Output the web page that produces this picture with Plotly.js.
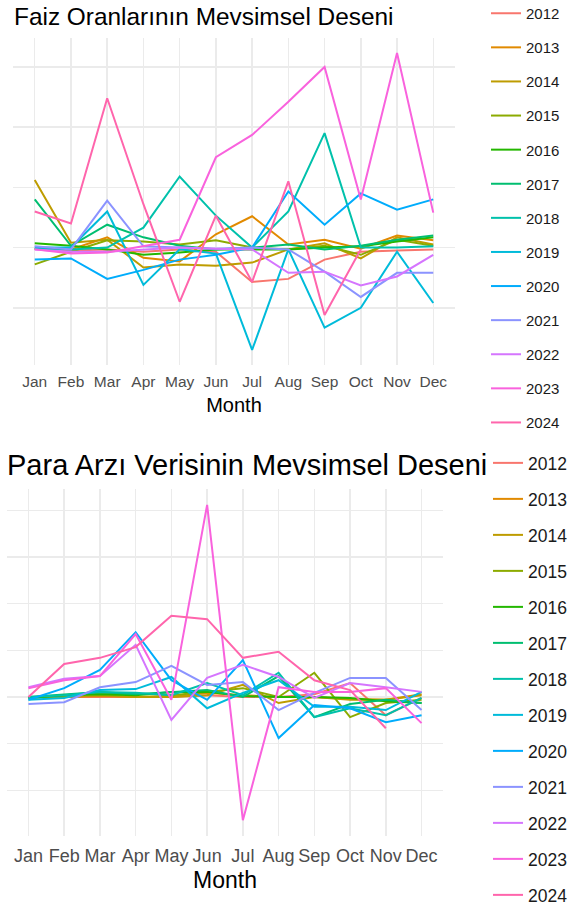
<!DOCTYPE html>
<html>
<head>
<meta charset="utf-8">
<script src="https://cdn.plot.ly/plotly-3.0.1.min.js"></script>
<style>html,body{margin:0;padding:0;background:#fff;}#chart{width:572px;height:908px;}</style>
</head>
<body>
<div id="chart"></div>
<script>
const months = ["Jan","Feb","Mar","Apr","May","Jun","Jul","Aug","Sep","Oct","Nov","Dec"];
const years = ["2012","2013","2014","2015","2016","2017","2018","2019","2020","2021","2022","2023","2024"];
const colors = ["#F8766D","#E18A00","#BE9C00","#8CAB00","#24B700","#00BE70","#00C1AB","#00BBDA","#00ACFC","#8B93FF","#D575FE","#F962DD","#FF65AC"];

// Faiz Oranları (interest rates) seasonal pattern
const faiz2012 = [-0.02,-0.05,-0.03,-0.07,-0.03,-0.07,-0.57,-0.52,-0.20,-0.07,-0.05,-0.03];
const faiz2013 = [-0.02,-0.03,0.17,-0.17,-0.23,0.22,0.52,0.05,0.13,-0.02,0.20,0.12];
const faiz2014 = [1.12,0.08,0.13,-0.33,-0.28,-0.30,-0.25,-0.03,0.07,-0.18,0.17,0.05];
const faiz2015 = [-0.28,-0.07,0.12,0.10,0.05,0.12,0.00,-0.03,0.03,-0.12,0.13,0.03];
const faiz2016 = [0.07,0.03,-0.03,-0.12,-0.08,-0.03,-0.03,-0.03,0.00,0.02,0.10,0.17];
const faiz2017 = [0.80,0.03,0.38,0.17,0.03,-0.03,0.00,0.05,-0.03,0.03,0.13,0.20];
const faiz2018 = [-0.02,-0.03,0.00,0.33,1.18,0.53,0.00,0.60,1.90,0.00,0.00,0.02];
const faiz2019 = [0.00,0.00,0.60,-0.62,-0.03,-0.10,-1.70,-0.03,-1.33,-1.00,-0.07,-0.92];
const faiz2020 = [-0.20,-0.18,-0.52,-0.37,-0.20,-0.12,0.00,0.93,0.38,0.90,0.63,0.80];
const faiz2021 = [0.02,-0.03,0.78,0.02,0.00,-0.02,0.00,-0.03,-0.40,-0.82,-0.42,-0.42];
const faiz2022 = [-0.03,-0.07,-0.07,-0.03,0.00,-0.02,-0.03,-0.42,-0.40,-0.63,-0.48,-0.12];
const faiz2023 = [-0.03,-0.10,-0.08,0.02,0.13,1.50,1.87,2.42,3.00,0.80,3.23,0.58];
const faiz2024 = [0.60,0.40,2.48,0.72,-0.90,0.53,-0.57,1.10,-1.12,-0.03];

// Para Arzı (money supply) seasonal pattern
const para2012 = [0.00,0.00,0.00,0.00,0.00,0.04,0.00,0.00,0.06,0.30,-0.39,-0.02];
const para2013 = [0.00,0.00,0.02,0.00,0.00,0.09,0.04,0.00,0.00,-0.04,-0.06,0.06];
const para2014 = [0.00,0.00,0.04,0.00,0.00,0.04,0.26,-0.13,0.00,-0.06,-0.06,0.04];
const para2015 = [-0.02,0.02,0.09,0.06,0.04,0.11,0.19,0.00,0.52,-0.43,-0.13,-0.06];
const para2016 = [-0.02,0.04,0.06,0.04,0.11,0.11,0.02,0.00,0.00,-0.02,-0.09,-0.13];
const para2017 = [0.00,0.06,0.11,0.06,0.11,0.15,0.00,0.45,-0.43,-0.15,-0.06,-0.13];
const para2018 = [0.00,0.04,0.11,0.09,0.04,0.30,0.04,0.52,-0.43,-0.24,-0.39,-0.02];
const para2019 = [-0.06,-0.02,0.15,0.17,0.43,-0.24,0.09,0.36,-0.21,-0.21,-0.28,0.11];
const para2020 = [-0.06,0.19,0.58,1.39,0.36,-0.06,0.79,-0.88,-0.17,-0.24,-0.54,-0.39];
const para2021 = [-0.15,-0.11,0.21,0.32,0.67,0.26,0.32,-0.28,0.09,0.41,0.41,-0.28];
const para2022 = [0.21,0.39,0.45,1.12,-0.49,0.41,0.69,0.43,-0.02,0.30,0.21,0.11];
const para2023 = [0.19,0.36,0.45,1.35,-0.06,4.12,-2.64,0.21,0.11,0.11,0.19,-0.56];
const para2024 = [0.00,0.71,0.84,1.07,1.74,1.67,0.84,0.97,0.36,0.15,-0.67];

const faizSeries = [faiz2012,faiz2013,faiz2014,faiz2015,faiz2016,faiz2017,faiz2018,faiz2019,faiz2020,faiz2021,faiz2022,faiz2023,faiz2024];
const paraSeries = [para2012,para2013,para2014,para2015,para2016,para2017,para2018,para2019,para2020,para2021,para2022,para2023,para2024];

const FONT = "Liberation Sans, Arial, sans-serif";
const traces = [];
years.forEach((yr, i) => {
  traces.push({
    x: months.slice(0, faizSeries[i].length), y: faizSeries[i],
    type: "scatter", mode: "lines", name: yr,
    line: {color: colors[i], width: 2},
    xaxis: "x", yaxis: "y", legend: "legend", legendgroup: "f" + yr
  });
});
years.forEach((yr, i) => {
  traces.push({
    x: months.slice(0, paraSeries[i].length), y: paraSeries[i],
    type: "scatter", mode: "lines", name: yr,
    line: {color: colors[i], width: 2},
    xaxis: "x2", yaxis: "y2", legend: "legend2", legendgroup: "p" + yr
  });
});

const W = 572, H = 908;
const gridC = "#EBEBEB";
const xBase = {
  type: "category", categoryorder: "array", categoryarray: months,
  showgrid: true, gridcolor: gridC, gridwidth: 1.5, zeroline: false,
  showline: false, ticks: "", automargin: false
};
const yBase = {
  showgrid: true, gridcolor: gridC, gridwidth: 1.5, zeroline: false,
  showticklabels: false, showline: false, ticks: "", dtick: 1, tick0: 0, automargin: false
};

const layout = {
  width: W, height: H,
  margin: {l: 0, r: 0, t: 0, b: 0, autoexpand: false},
  paper_bgcolor: "#fff", plot_bgcolor: "#fff",
  font: {family: FONT, color: "#4D4D4D"},
  showlegend: true,
  xaxis: Object.assign({}, xBase, {
    domain: [13/W, 455/W], anchor: "y", range: [-0.6, 11.6],
    ticklabelstandoff: 5,
    tickfont: {size: 15.5, color: "#4D4D4D", family: FONT},
    title: {text: "Month", font: {size: 20, color: "#000", family: FONT}, standoff: 9}
  }),
  yaxis: Object.assign({}, yBase, {
    domain: [1 - 365/H, 1 - 38/H], anchor: "x", range: [-1.95, 3.48]
  }),
  xaxis2: Object.assign({}, xBase, {
    domain: [7/W, 443/W], anchor: "y2", range: [-0.6, 11.6],
    ticklabelstandoff: 7,
    tickfont: {size: 18, color: "#4D4D4D", family: FONT},
    title: {text: "Month", font: {size: 23, color: "#000", family: FONT}, standoff: 6}
  }),
  yaxis2: Object.assign({}, yBase, {
    domain: [1 - 836/H, 1 - 489/H], anchor: "x2", range: [-2.98, 4.46]
  }),
  legend: {
    x: 486/W, y: 1 + 3/H, xanchor: "left", yanchor: "top",
    font: {size: 15, color: "#1a1a1a", family: FONT},
    traceorder: "grouped", tracegroupgap: 11.6, bgcolor: "rgba(0,0,0,0)",
    itemwidth: 30
  },
  legend2: {
    x: 488/W, y: 1 - 445/H, xanchor: "left", yanchor: "top",
    font: {size: 17.5, color: "#1a1a1a", family: FONT},
    traceorder: "grouped", tracegroupgap: 10.25, bgcolor: "rgba(0,0,0,0)",
    itemwidth: 30
  },
  annotations: [
    {text: "Faiz Oranlarının Mevsimsel Deseni", xref: "paper", yref: "paper",
     x: 12/W, y: 1 - 16/H, xanchor: "left", yanchor: "middle", showarrow: false,
     font: {size: 24.4, color: "#000", family: FONT}},
    {text: "Para Arzı Verisinin Mevsimsel Deseni", xref: "paper", yref: "paper",
     x: 5/W, y: 1 - 465/H, xanchor: "left", yanchor: "middle", showarrow: false,
     font: {size: 29, color: "#000", family: FONT}}
  ]
};

Plotly.newPlot("chart", traces, layout, {displayModeBar: false, staticPlot: true});
</script>
</body>
</html>
